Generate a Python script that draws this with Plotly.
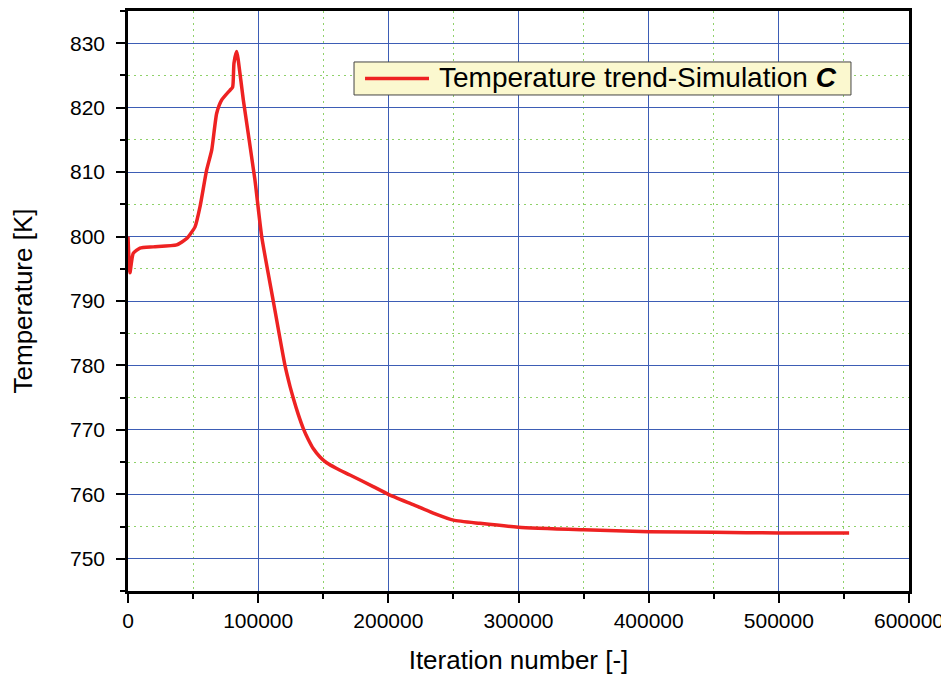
import plotly.graph_objects as go

iterations = [0, 1500, 4000, 9200, 19400, 37400, 45100, 51500, 55300, 60400, 64300,
              68100, 72000, 78300, 80400, 81400, 83500, 84700, 88600, 97500, 102700,
              111600, 120600, 124400, 127000, 130800, 134700, 138500, 142300, 147500,
              152600, 160300, 170500, 188400, 200000, 219100, 234500, 250000, 270300,
              300000, 350000, 400000, 450000, 500000, 554000]
temperature = [800.0, 794.4, 797.4, 798.2, 798.4, 798.7, 799.7, 801.5, 804.6, 810.3, 813.4,
               819.1, 821.2, 822.7, 823.2, 826.9, 828.7, 827.4, 821.2, 808.8, 800.0,
               790.0, 780.0, 776.8, 774.9, 772.4, 770.2, 768.5, 767.1, 765.8,
               764.9, 764.0, 763.0, 761.2, 760.0, 758.4, 757.1, 756.0, 755.5,
               754.9, 754.5, 754.2, 754.1, 754.0, 754.0]

series_name = "Temperature trend-Simulation <b><i>C</i></b>"
x_title = "Iteration number [-]"
y_title = "Temperature [K]"

FONT = "Liberation Sans, Arial, sans-serif"
LINE_COLOR = "#ee2222"

fig = go.Figure()
fig.add_trace(go.Scatter(x=iterations, y=temperature, mode="lines", name=series_name,
                         line=dict(color=LINE_COLOR, width=3.5, shape="spline", smoothing=0.5),
                         showlegend=False))

axis_common = dict(
    showline=True, linecolor="black", linewidth=2.5, mirror=True,
    ticks="outside", ticklen=9, tickwidth=2, tickcolor="black",
    showgrid=True, gridcolor="#3d5db5", gridwidth=1,
    zeroline=False,
    tickfont=dict(family=FONT, size=21, color="black"),
)
minor_common = dict(ticks="outside", ticklen=5, tickwidth=2, tickcolor="black",
                    showgrid=True, gridcolor="#8fd16a", griddash="2px,4px", gridwidth=1.2)

fig.update_xaxes(
    range=[0, 600000], dtick=100000, tick0=0, tickformat="d",
    minor=dict(dtick=50000, **minor_common),
    title=dict(text=x_title, font=dict(family=FONT, size=26, color="black"), standoff=20),
    **axis_common,
)
fig.update_yaxes(
    range=[745, 835], dtick=10, tick0=750,
    minor=dict(dtick=5, **minor_common),
    ticklabelstandoff=7,
    title=dict(text=y_title, font=dict(family=FONT, size=26, color="black"), standoff=36),
    **axis_common,
)

# legend box (drawn in paper coordinates)
fig.add_shape(type="rect", xref="paper", yref="paper",
              x0=0.2894, x1=0.9257, y0=0.8552, y1=0.9121,
              fillcolor="#fbf8cf", line=dict(color="#444444", width=1), layer="above")
fig.add_shape(type="line", xref="paper", yref="paper",
              x0=0.3035, x1=0.3854, y0=0.8836, y1=0.8836,
              line=dict(color=LINE_COLOR, width=3.5), layer="above")
fig.add_annotation(xref="paper", yref="paper", x=0.3956, y=0.8850,
                   xanchor="left", yanchor="middle", showarrow=False,
                   text=series_name, font=dict(family=FONT, size=28, color="black"))

# the page adds an 8px body margin, so the figure is sized/offset to compensate
fig.update_layout(
    width=941, height=672,
    margin=dict(l=120, r=40, t=3, b=89, autoexpand=False),
    paper_bgcolor="white", plot_bgcolor="white",
    showlegend=False,
)

fig.write_html("out.html")
